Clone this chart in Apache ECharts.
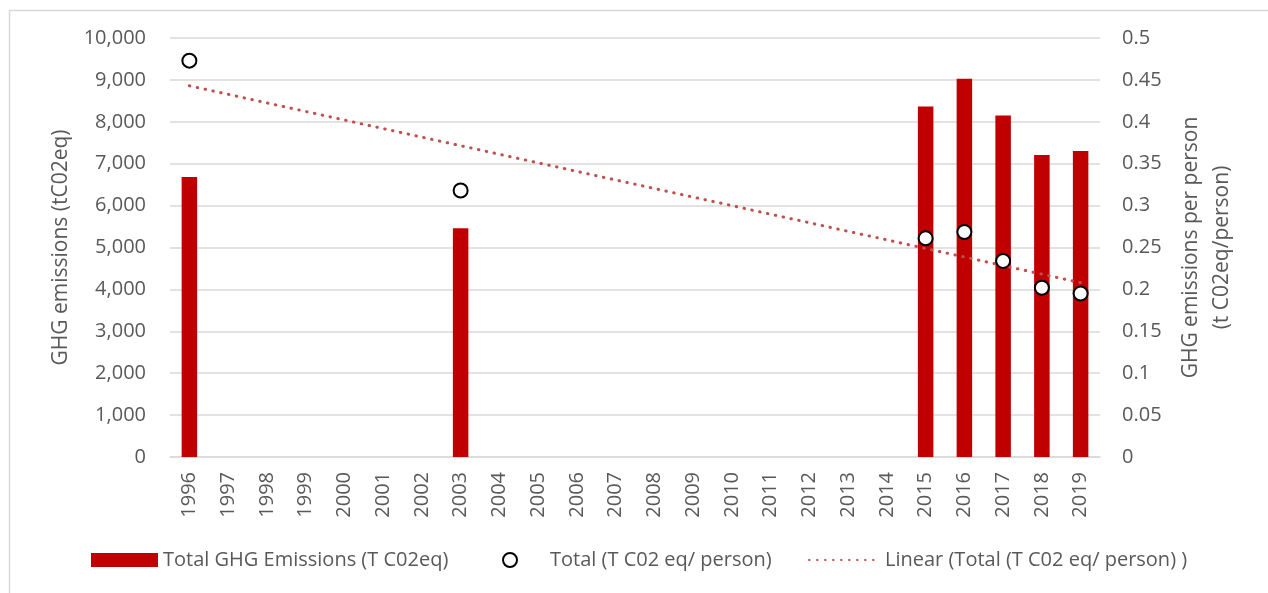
<!DOCTYPE html>
<html>
<head>
<meta charset="utf-8">
<script src="https://cdn.jsdelivr.net/npm/echarts@6/dist/echarts.min.js"></script>
<style>html,body{margin:0;padding:0;background:#fff;}#c{width:1268px;height:593px;}</style>
</head>
<body>
<div id="c"></div>
<script>
var years = ['1996','1997','1998','1999','2000','2001','2002','2003','2004','2005','2006','2007','2008','2009','2010','2011','2012','2013','2014','2015','2016','2017','2018','2019'];
var dataYears = ['1996','2003','2015','2016','2017','2018','2019'];
var totalEmissions = [6680, 5460, 8365, 9025, 8150, 7210, 7305];
var perPerson = [0.473, 0.318, 0.261, 0.2685, 0.234, 0.202, 0.195];
var trendYears = ['1996','2019'];
var trendValues = [0.443, 0.208];
var leftTicks = {min: 0, max: 10000, interval: 1000};
var rightTicks = {min: 0, max: 0.5, interval: 0.05};

var FONT = 'Open Sans';
var GREY = '#595959';

var barData = dataYears.map(function(y, i){ return [y, totalEmissions[i]]; });
var scatterData = dataYears.map(function(y, i){ return [y, perPerson[i]]; });
var trendData = trendYears.map(function(y, i){ return [y, trendValues[i]]; });

var chart = echarts.init(document.getElementById('c'), null, {renderer: 'canvas'});
chart.setOption({
  animation: false,
  backgroundColor: '#fff',
  textStyle: {fontFamily: FONT, color: GREY},
  graphic: [{
    type: 'rect', left: 7, top: 8, shape: {x: 0, y: 0, width: 1400, height: 700},
    style: {fill: 'none', stroke: '#d9d9d9', lineWidth: 1.5}, silent: true, z: -10
  }],
  grid: {left: 170, right: 168, top: 38, bottom: 136},
  legend: [
    {data: [{name: 'Total GHG Emissions (T C02eq)', icon: 'rect'}], left: 86, top: 545, itemWidth: 67, itemHeight: 14, itemGap: 0,
     textStyle: {fontFamily: FONT, fontSize: 20, color: GREY, padding: [0,0,0,0]}},
    {data: [{name: 'Total (T C02 eq/ person)', icon: 'circle'}], left: 497, top: 545, itemWidth: 14, itemHeight: 14,
     textStyle: {fontFamily: FONT, fontSize: 20, color: GREY, padding: [0,0,0,28]}},
    {data: [{name: 'Linear (Total (T C02 eq/ person) )'}], left: 803, top: 545, itemWidth: 71, itemHeight: 14,
     textStyle: {fontFamily: FONT, fontSize: 20, color: GREY, padding: [0,0,0,0]}}
  ],
  xAxis: {
    type: 'category', data: years, boundaryGap: true,
    axisLine: {lineStyle: {color: '#d9d9d9', width: 1.5}},
    axisTick: {show: false},
    axisLabel: {rotate: 90, margin: 15, fontFamily: FONT, fontSize: 20, color: GREY, interval: 0}
  },
  yAxis: [{
    type: 'value', min: leftTicks.min, max: leftTicks.max, interval: leftTicks.interval,
    name: 'GHG emissions (tC02eq)', nameLocation: 'middle', nameRotate: 90, nameGap: 98,
    nameTextStyle: {fontFamily: FONT, fontSize: 21, color: GREY},
    axisLine: {show: false}, axisTick: {show: false},
    splitLine: {lineStyle: {color: '#d9d9d9', width: 1.5}},
    axisLabel: {margin: 24, fontFamily: FONT, fontSize: 20, color: GREY,
      formatter: function(v){ return v.toLocaleString('en-US'); }}
  }, {
    type: 'value', min: rightTicks.min, max: rightTicks.max, interval: rightTicks.interval, position: 'right',
    name: 'GHG emissions per person\n(t C02eq/person)', nameLocation: 'middle', nameRotate: 90, nameGap: 76,
    nameTextStyle: {fontFamily: FONT, fontSize: 21, color: GREY, lineHeight: 31, align: 'center'},
    axisLine: {show: false}, axisTick: {show: false}, splitLine: {show: false},
    axisLabel: {margin: 22, fontFamily: FONT, fontSize: 20, color: GREY,
      formatter: function(v){ return String(parseFloat(v.toFixed(2))); }}
  }],
  series: [{
    name: 'Total GHG Emissions (T C02eq)', type: 'bar', yAxisIndex: 0, data: barData,
    barWidth: '40%', itemStyle: {color: '#c00000'}
  }, {
    name: 'Linear (Total (T C02 eq/ person) )', type: 'line', yAxisIndex: 1, data: trendData,
    symbol: 'none', z: 3,
    lineStyle: {color: '#c0504d', width: 3, type: [0.5, 7.5], cap: 'round'},
    itemStyle: {color: 'rgba(0,0,0,0)', borderWidth: 0}
  }, {
    name: 'Total (T C02 eq/ person)', type: 'scatter', yAxisIndex: 1, data: scatterData,
    symbol: 'circle', symbolSize: 14, z: 4,
    itemStyle: {color: '#ffffff', borderColor: '#000000', borderWidth: 2, opacity: 1}
  }]
});
</script>
</body>
</html>
